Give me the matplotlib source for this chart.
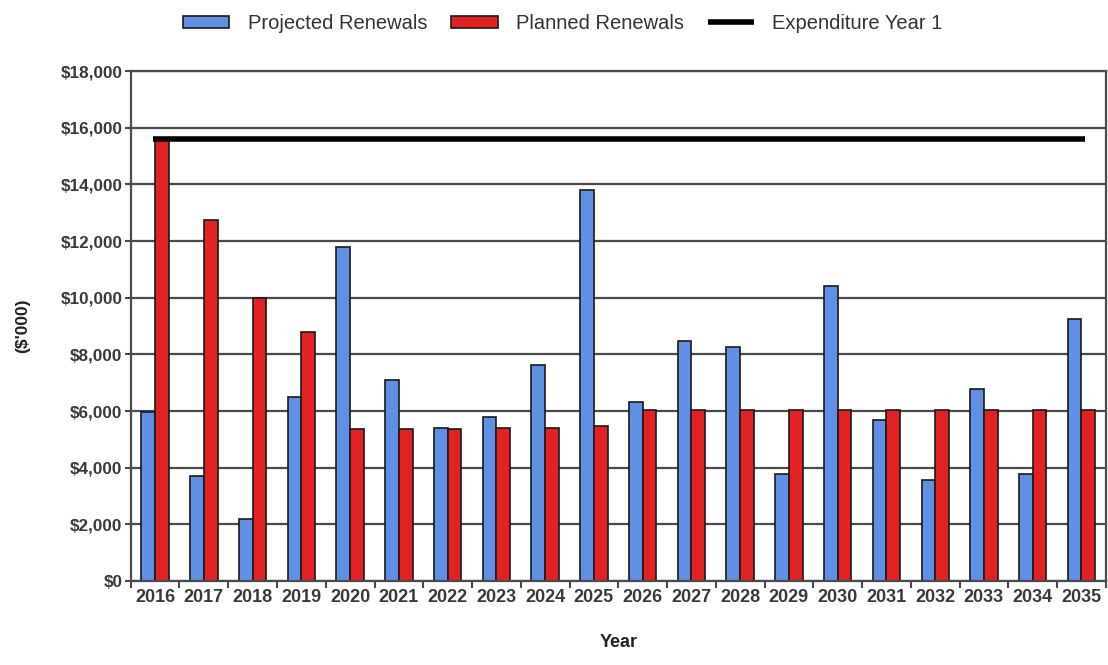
import matplotlib.pyplot as plt
import numpy as np

years = [str(y) for y in range(2016, 2036)]
projected = [5950, 3700, 2200, 6500, 11800, 7080, 5400, 5800, 7620, 13800,
             6330, 8470, 8260, 3760, 10400, 5700, 3550, 6780, 3760, 9250]
planned = [15600, 12750, 10000, 8800, 5350, 5350, 5350, 5400, 5400, 5460,
           6040, 6040, 6040, 6040, 6040, 6040, 6040, 6040, 6040, 6040]
expenditure_year1 = 15600
yticks = list(range(0, 18001, 2000))

plt.rcParams['font.family'] = ['Liberation Sans', 'DejaVu Sans']

fig = plt.figure(figsize=(11.08, 6.65), dpi=100)
ax = fig.add_axes([0.118, 0.1263, 0.880, 0.7669])

x = np.arange(len(years))
w = 0.28
grid_col = '#4a4a4a'

for yv in yticks:
	ax.axhline(yv, color=grid_col, lw=1.6, zorder=0)

b1 = ax.bar(x - w / 2, projected, width=w, color='#5f90e4', edgecolor='#1a1a1a', lw=1.2,
	label='Projected Renewals', zorder=2)
b2 = ax.bar(x + w / 2, planned, width=w, color='#e02222', edgecolor='#1a1a1a', lw=1.2,
	label='Planned Renewals', zorder=2)
ln = ax.hlines(expenditure_year1, x[0] - 0.05, x[-1] + 0.08, color='black', lw=4,
	label='Expenditure Year 1', zorder=3)

ax.set_xlim(-0.5, len(years) - 0.5)
ax.set_ylim(0, 18000)

# category boundaries get the tick marks, centres get the labels
ax.set_xticks(np.arange(len(years) + 1) - 0.5)
ax.set_xticklabels([])
ax.set_xticks(x, minor=True)
ax.set_xticklabels(years, minor=True, fontsize=13, fontweight='bold', color='#3a3a3a')
ax.tick_params(axis='x', which='major', length=5, width=1.5, color=grid_col)
ax.tick_params(axis='x', which='minor', length=0, pad=6)

ax.set_yticks(yticks)
ax.set_yticklabels(['${:,}'.format(v) for v in yticks], fontsize=12.3,
	fontweight='bold', color='#3a3a3a')
ax.tick_params(axis='y', length=4, width=1.5, color=grid_col, pad=2)

for s in ax.spines.values():
	s.set_color(grid_col)
	s.set_linewidth(1.6)

ax.set_ylabel("($'000)", fontsize=12.5, fontweight='bold', color='#222222', labelpad=22)
ax.set_xlabel('Year', fontsize=13, fontweight='bold', color='#222222', labelpad=20)

fig.legend(handles=[b1, b2, ln], loc='upper center', bbox_to_anchor=(0.508, 1.006), ncol=3,
	frameon=False, fontsize=14.5, handlelength=2.3, handleheight=0.6, columnspacing=1.2,
	handletextpad=0.9, labelcolor='#333333')

plt.savefig('out.png', dpi=100)
plt.close()
